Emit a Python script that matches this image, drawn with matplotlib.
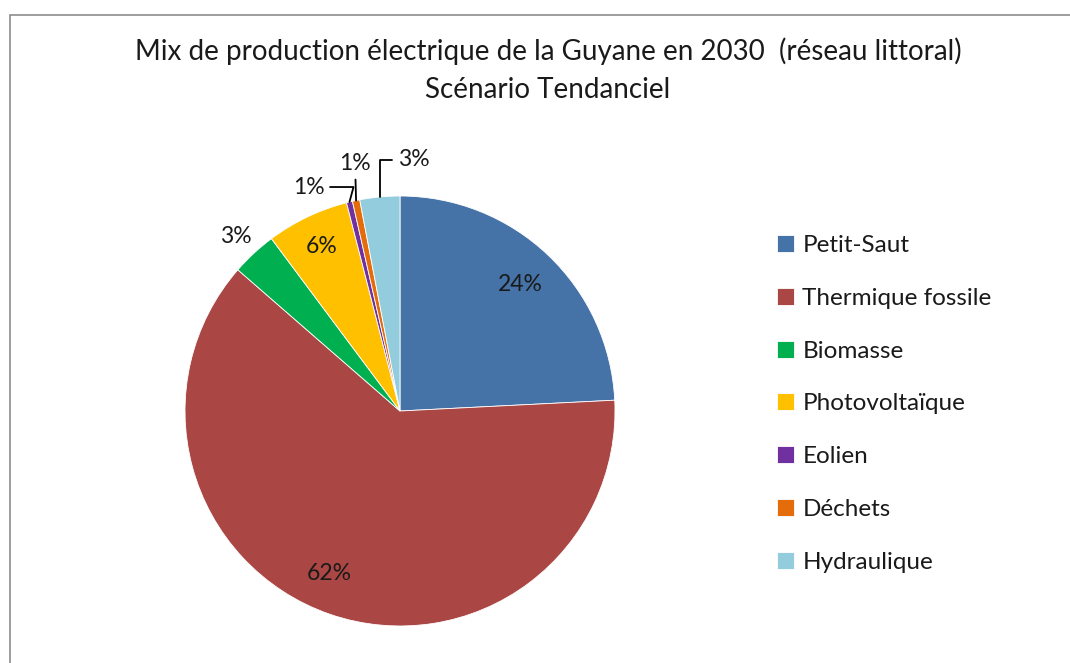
import numpy as np
import matplotlib
matplotlib.use("agg")
import matplotlib.pyplot as plt
from matplotlib.patches import Rectangle

labels = ['Petit-Saut', 'Thermique fossile', 'Biomasse', 'Photovoltaïque',
          'Eolien', 'Déchets', 'Hydraulique']
shares = [24.2, 62.2, 3.4, 6.2, 0.45, 0.55, 3.0]
colors = ['#4572A7', '#AA4643', '#00B050', '#FFC000', '#7030A0', '#E46C0A', '#93CDDD']

title = 'Mix de production électrique de la Guyane en 2030  (réseau littoral)\nScénario Tendanciel'

FONT = ['Lato', 'DejaVu Sans']
W, H = 1070, 663
PT = 72 / 100  # px -> points

fig = plt.figure(figsize=(W / 100, H / 100), dpi=100)
fig.patches.append(Rectangle((10 / W, -0.1), 1.2, 1 - 15 / H + 0.1, transform=fig.transFigure,
                             fill=False, edgecolor='#8c8c8c', linewidth=1.2))

fig.text(548 / W, 1 - 70 / H, title, ha='center', va='center', fontsize=20, linespacing=1.55,
         family=FONT, color='#1a1a1a')

# pie centred at (400, 411) px, radius 215 px
cx, cy, r = 400, 411, 215
ax = fig.add_axes([(cx - r) / W, 1 - (cy + r) / H, 2 * r / W, 2 * r / H])
wedges, _ = ax.pie(shares, colors=colors, startangle=90, counterclock=False,
                   wedgeprops=dict(linewidth=0.6, edgecolor='white'))
ax.set_xlim(-1, 1)
ax.set_ylim(-1, 1)
ax.axis('off')

tfont = dict(fontsize=16.5, family=FONT, color='#1a1a1a')

def mid(w):
    return np.deg2rad((w.theta1 + w.theta2) / 2)

# plain labels: (index, radial distance, nudge in px)
for i, dist, (nx, ny) in [(0, 0.81, (0, 0)), (1, 0.80, (-15, 0)),
                          (3, 0.85, (0, 0)), (2, 1.11, (-2, 0))]:
    a = mid(wedges[i])
    ax.annotate('%d%%' % round(shares[i]), xy=(dist * np.cos(a), dist * np.sin(a)),
                xytext=(nx * PT, ny * PT), textcoords='offset points',
                ha='center', va='center', **tfont)

# small slices with leader lines: (index, text offset in px, ha, connection)
for i, (dx, dy), ha, conn in [(4, (-25, 15), 'right', 'angle,angleA=0,angleB=75,rad=0'),
                              (5, (-1, 37), 'center', 'arc3'),
                              (6, (18, 37), 'left', 'angle,angleA=0,angleB=90,rad=0')]:
    a = mid(wedges[i])
    ax.annotate('%d%%' % max(1, round(shares[i])), xy=(np.cos(a), np.sin(a)),
                xytext=(dx * PT, dy * PT), textcoords='offset points', ha=ha, va='center',
                arrowprops=dict(arrowstyle='-', color='black', lw=1.3, connectionstyle=conn,
                                shrinkA=2, shrinkB=0),
                **tfont)

fig.legend(wedges, labels, loc='upper left', bbox_to_anchor=(755 / W, 1 - 213 / H),
           frameon=False, handlelength=0.7, handleheight=0.7, handletextpad=0.35,
           labelspacing=1.31, prop=dict(family=FONT, size=17.5),
           labelcolor='#1a1a1a')

plt.savefig('out.png', dpi=100)
